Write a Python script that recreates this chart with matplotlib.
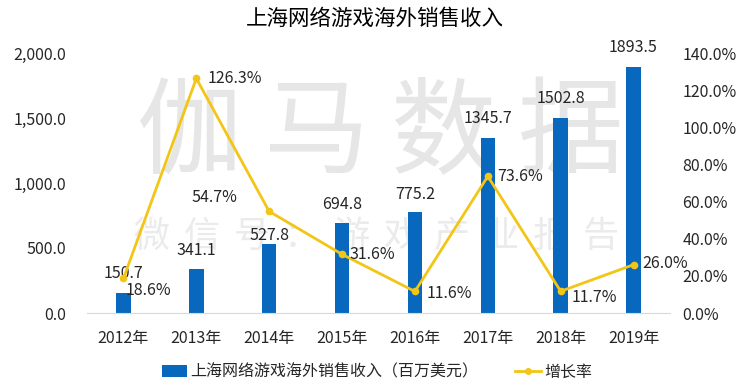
import matplotlib
matplotlib.use("Agg")
import matplotlib.pyplot as plt
from matplotlib.ticker import FuncFormatter
from matplotlib.lines import Line2D
from matplotlib.patches import Patch

plt.rcParams['font.family'] = ['Noto Sans CJK SC', 'DejaVu Sans']

years = ['2012年', '2013年', '2014年', '2015年', '2016年', '2017年', '2018年', '2019年']
revenue = [150.7, 341.1, 527.8, 694.8, 775.2, 1345.7, 1502.8, 1893.5]
growth = [18.6, 126.3, 54.7, 31.6, 11.6, 73.6, 11.7, 26.0]

title = '上海网络游戏海外销售收入'
bar_name = '上海网络游戏海外销售收入（百万美元）'
line_name = '增长率'
wm_big = '伽马数据'
wm_small = '微信号：游戏产业报告'

bar_color = '#0868BE'
line_color = '#F2C516'
text_color = '#262626'
fs = 11.5

fig = plt.figure(figsize=(7.5, 3.91), dpi=100)
W, H = 750, 391
ax = fig.add_axes([87 / W, 1 - 313 / H, (670 - 87) / W, (313 - 53) / H])
ax.set_facecolor('none')
ax2 = ax.twinx()
ax2.set_facecolor('none')

# watermark
for i, ch in enumerate(wm_big):
    fig.text((190 + 127 * i) / W, 1 - 135 / H, ch, fontsize=76, color='#E6E6E6',
             ha='center', va='center', zorder=-5)
for i, ch in enumerate(wm_small):
    fig.text((152 + 49.9 * i) / W, 1 - 237 / H, ch, fontsize=26, color='#EBEBEB',
             ha='center', va='center', zorder=-5)

x = list(range(len(years)))
ax.bar(x, revenue, width=0.2, color=bar_color, zorder=2)
bar_dy = [14, 13, 6.5, 13, 13, 14, 14, 14]
for xi, v, dy in zip(x, revenue, bar_dy):
    ax.annotate(f'{v:.1f}', (xi, v), xytext=(0, dy), textcoords='offset points',
                ha='center', va='center', fontsize=fs, color=text_color)

ax.set_xlim(-0.5, len(years) - 0.5)
ax.set_ylim(0, 2000)
ax.set_yticks([0, 500, 1000, 1500, 2000])
ax.yaxis.set_major_formatter(FuncFormatter(lambda v, p: f'{v:,.1f}'))
ax.set_xticks(x)
ax.set_xticklabels(years)
ax.tick_params(axis='both', length=0, labelsize=fs, colors=text_color)
ax.tick_params(axis='x', pad=12)
ax.tick_params(axis='y', pad=15)

ax2.plot(x, growth, color=line_color, lw=2, marker='o', markersize=4.5, zorder=3)
ax2.set_ylim(0, 140)
ax2.set_yticks([0, 20, 40, 60, 80, 100, 120, 140])
ax2.yaxis.set_major_formatter(FuncFormatter(lambda v, p: f'{v:.1f}%'))
ax2.tick_params(axis='y', length=0, labelsize=fs, colors=text_color, pad=9)

offsets = [(1.5, -9, 'left'), (8, 0, 'left'), (-23, 10, 'right'), (5, 0, 'left'),
           (8.5, -1.5, 'left'), (6.5, 0, 'left'), (8, -4.5, 'left'), (6.5, 1, 'left')]
for xi, g, (dx, dy, ha) in zip(x, growth, offsets):
    ax2.annotate(f'{g:.1f}%', (xi, g), xytext=(dx, dy), textcoords='offset points',
                 ha=ha, va='center', fontsize=fs, color=text_color)

for a in (ax, ax2):
    for s in a.spines.values():
        s.set_visible(False)
ax.spines['bottom'].set_visible(True)
ax.spines['bottom'].set_color('#D9D9D9')

fig.text(0.5, 1 - 19 / H, title, ha='center', va='center', fontsize=15.5, color='#000000')

handles = [Patch(facecolor=bar_color), Line2D([0], [0], color=line_color, lw=2, marker='o', markersize=4)]
fig.legend(handles, [bar_name, line_name], loc='center', bbox_to_anchor=(377 / W, 1 - 372 / H),
           ncol=2, frameon=False, fontsize=fs, columnspacing=2.3, handlelength=1.6, handletextpad=0.2,
           labelcolor=text_color)

fig.savefig('out.png', dpi=100)
